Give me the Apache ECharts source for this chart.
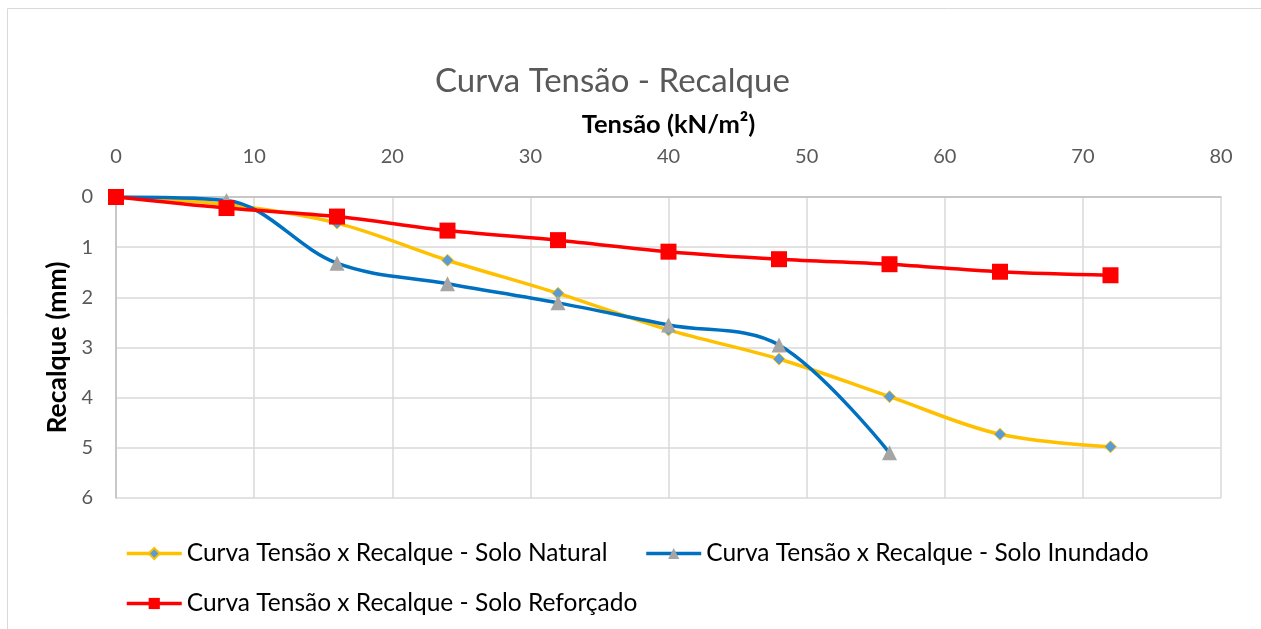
<!DOCTYPE html>
<html><head><meta charset="utf-8">
<script src="https://cdn.jsdelivr.net/npm/echarts@6/dist/echarts.min.js"></script>
<style>html,body{margin:0;padding:0;background:#fff}#c{width:1261px;height:629px}</style>
</head><body><div id="c"></div>
<script>
const tensao = [0, 8, 16, 24, 32, 40, 48, 56, 64, 72];
const soloNatural = [0, 0.15, 0.52, 1.26, 1.92, 2.65, 3.23, 3.98, 4.73, 4.98];
const soloInundado = [0, 0.07, 1.32, 1.73, 2.11, 2.55, 2.95, 5.1];
const soloReforcado = [0, 0.22, 0.39, 0.67, 0.86, 1.09, 1.24, 1.34, 1.49, 1.56];
const names = ['Curva Tensão x Recalque - Solo Natural', 'Curva Tensão x Recalque - Solo Inundado', 'Curva Tensão x Recalque - Solo Reforçado'];
const FONT = 'Lato';
function pairs(ys){ return ys.map((v,i)=>[tensao[i], v]); }
const chart = echarts.init(document.getElementById('c'));
const legendCommon = {itemWidth:55, itemHeight:14, itemGap:37, lineStyle:{width:3.5},
  textStyle:{fontFamily:FONT, fontSize:24.5, color:'#000'}};
chart.setOption({
  animation: false,
  textStyle: {fontFamily: FONT},
  graphic: [{type:'rect', shape:{x:7.5,y:8.5,width:1270,height:640}, style:{fill:'none', stroke:'#d9d9d9', lineWidth:1}, silent:true}],
  title: {text:'Curva Tensão - Recalque', left:430, top:60, textStyle:{fontFamily:FONT, fontSize:33, fontWeight:'normal', color:'#595959'}},
  grid: {left:116, right:40, top:197, bottom:131},
  legend: [
    Object.assign({data:[names[0], names[1]], left:120, top:536}, legendCommon),
    Object.assign({data:[names[2]], left:120, top:586}, legendCommon)
  ],
  xAxis: {type:'value', position:'top', min:0, max:80, interval:10,
    name:'Tensão (kN/m²)', nameLocation:'middle', nameGap:59,
    nameTextStyle:{fontFamily:FONT, fontSize:25.5, fontWeight:'bold', color:'#000'},
    axisLine:{show:true, lineStyle:{color:'#bfbfbf', width:1.5}}, axisTick:{show:false},
    axisLabel:{fontFamily:FONT, fontSize:20, color:'#595959', margin:30},
    splitLine:{show:true, lineStyle:{color:'#d9d9d9', width:1.5}}},
  yAxis: {type:'value', inverse:true, min:0, max:6, interval:1,
    name:'Recalque (mm)', nameLocation:'middle', nameGap:44, nameRotate:90,
    nameTextStyle:{fontFamily:FONT, fontSize:26.5, fontWeight:'bold', color:'#000'},
    axisLine:{show:true, lineStyle:{color:'#bfbfbf', width:1.5}}, axisTick:{show:false},
    axisLabel:{fontFamily:FONT, fontSize:20, color:'#595959', margin:23},
    splitLine:{show:true, lineStyle:{color:'#d9d9d9', width:1.5}}},
  series: [
    {name:names[0], type:'line', smooth:0.35, data:pairs(soloNatural), z:3,
     lineStyle:{color:'#FFC000', width:3.5}, symbol:'diamond', symbolSize:12,
     itemStyle:{color:'#5B9BD5', borderColor:'#FFC000', borderWidth:1}},
    {name:names[1], type:'line', smooth:0.35, data:pairs(soloInundado), z:4,
     lineStyle:{color:'#0070C0', width:3.5}, symbol:'triangle', symbolSize:15,
     itemStyle:{color:'#A5A5A5', borderColor:'#A5A5A5', borderWidth:0}},
    {name:names[2], type:'line', smooth:0.35, data:pairs(soloReforcado), z:5,
     lineStyle:{color:'#FF0000', width:3.5}, symbol:'rect', symbolSize:16,
     itemStyle:{color:'#FF0000', borderColor:'#FF0000', borderWidth:0}}
  ]
});
</script></body></html>
